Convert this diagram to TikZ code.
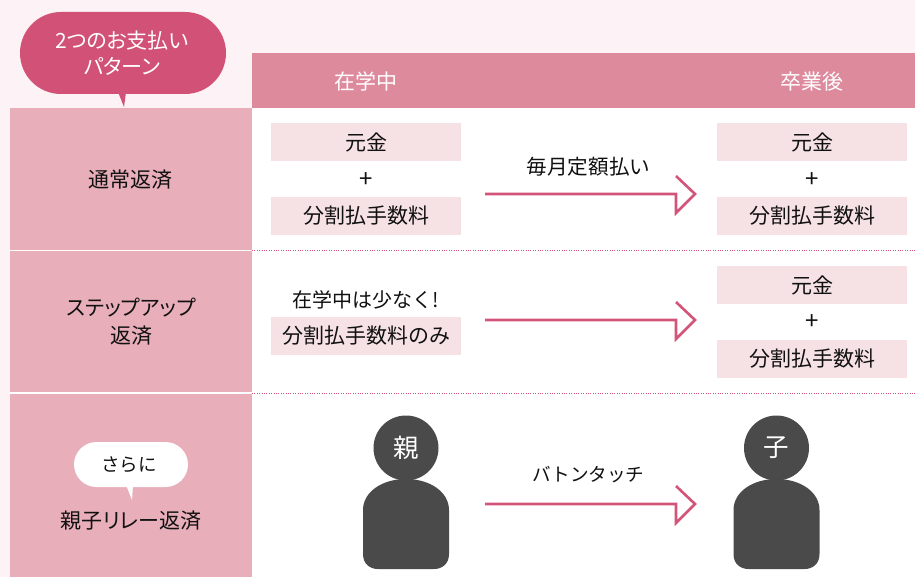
\documentclass[tikz,border=0pt]{standalone}
\usepackage{fontspec}
\setmainfont{Noto Sans CJK JP}
\newfontfamily\paltfont[RawFeature=+palt]{Noto Sans CJK JP}
\definecolor{bgp}{HTML}{FDF2F6}
\definecolor{headp}{HTML}{DE8A9D}
\definecolor{leftp}{HTML}{E8AEBA}
\definecolor{boxp}{HTML}{F6E1E5}
\definecolor{bubp}{HTML}{D15177}
\definecolor{arrp}{HTML}{D25579}
\definecolor{pers}{HTML}{4A4A4A}
\definecolor{ink}{HTML}{111111}
\newcommand{\cbt}[1]{\raisebox{-1.5pt}{#1}}
\tikzset{
  x=1pt,y=-1pt,
  txt/.style={inner sep=0pt,text=ink,font=\fontsize{21}{28}\selectfont,align=center},
  wtxt/.style={txt,text=white},
  cellbox/.style={fill=boxp,draw=none,minimum width=190pt,minimum height=38pt,inner sep=0pt,text=ink,font=\fontsize{21}{26}\selectfont},
  plus/.style={txt,font=\fontsize{24}{26}\selectfont},
  flow/.style={draw=arrp,line width=2.6pt,miter limit=10},
  sep/.style={draw=arrp,line width=1pt,dash pattern=on 1pt off 1.4pt},
  wsep/.style={draw=white,line width=1.4pt},
}
\newcommand{\flowarrow}[3]{% start name, end name, y
  \draw[flow] (#1) -- (676,#3) -- (676,#3+19) -- (#2) -- (676,#3-18);
}
\newcommand{\person}[3]{% name, centre x, label
  \fill[pers] (#2-43,569-15) -- (#2-43,510) .. controls (#2-43,492) and (#2-24,479) .. (#2,479) .. controls (#2+24,479) and (#2+43,492) .. (#2+43,510) -- (#2+43,554) .. controls (#2+43,564) and (#2+36,569) .. (#2+28,569) -- (#2-28,569) .. controls (#2-36,569) and (#2-43,564) .. (#2-43,554) -- cycle;
  \node[circle,fill=pers,minimum size=65pt,inner sep=0pt,text=white,font=\fontsize{25.5}{30}\selectfont] (#1) at (#2,448) {\cbt{#3}};
}
\begin{document}
\begin{tikzpicture}
\useasboundingbox (0,0) rectangle (915,577);
\fill[bgp] (0,0) rectangle (915,577);
\fill[white] (252,108) rectangle (915,577);
\fill[headp] (252,53) rectangle (915,108);
\fill[leftp] (10,108) rectangle (252,577);
% separators
\draw[wsep] (10,250.5) -- (252,250.5);
\draw[wsep] (10,393) -- (252,393);
\draw[sep] (252,250.5) -- (915,250.5);
\draw[sep] (252,393) -- (915,393);
% speech bubbles
\fill[bubp] (118,92) -- (124,107) -- (126,92) -- cycle;
\node[rectangle,rounded corners=41pt,fill=bubp,minimum width=206pt,minimum height=82pt,inner sep=0pt] (bub) at (123,53) {};
\node[wtxt,font=\fontsize{21}{26}\paltfont\selectfont] (bubt) at (122,53) {2つのお支払い\\パターン};
\fill[white] (126,485) -- (132,500) -- (133,485) -- cycle;
\node[rectangle,rounded corners=22.5pt,fill=white,minimum width=114pt,minimum height=45pt,inner sep=0pt] (bub2) at (131,464.5) {};
\node[txt,font=\fontsize{18.5}{24}\selectfont] (bub2t) at (129,465) {さらに};
% headers
\node[wtxt] (h1) at (366,81.5) {在学中};
\node[wtxt] (h2) at (812,81.5) {卒業後};
% left labels
\node[txt] (l1) at (130,180) {通常返済};
\node[txt,font=\fontsize{21}{28}\paltfont\selectfont] (l2) at (131,321.5) {ステップアップ\\返済};
\node[txt,font=\fontsize{21}{26}\paltfont\selectfont] (l3) at (131,520.5) {親子リレー返済};
% row 1
\node[cellbox] (a1) at (366,142) {\cbt{元金}};
\node[plus] (a2) at (366,180) {+};
\node[cellbox] (a3) at (366,216) {\cbt{分割払手数料}};
\node[cellbox] (b1) at (812,142) {\cbt{元金}};
\node[plus] (b2) at (812,180) {+};
\node[cellbox] (b3) at (812,216) {\cbt{分割払手数料}};
\node[txt,font=\fontsize{20.6}{26}\selectfont] (t1) at (588.5,166.5) {毎月定額払い};
% row 2
\node[txt,font=\fontsize{20}{24}\selectfont] (c1) at (366,299.5) {在学中は少なく!};
\node[cellbox] (c2) at (366,336) {\cbt{分割払手数料のみ}};
\node[cellbox] (d1) at (812,285) {\cbt{元金}};
\node[plus] (d2) at (812,322.5) {+};
\node[cellbox] (d3) at (812,359) {\cbt{分割払手数料}};
% row 3
\person{oya}{406}{親}
\person{ko}{776.5}{子}
\node[txt,font=\fontsize{18.6}{24}\selectfont] (t3) at (588.5,474.5) {バトンタッチ};
% arrows
\coordinate (s1) at (485,194); \coordinate (e1) at (695,194);
\coordinate (s2) at (485,320); \coordinate (e2) at (695,320);
\coordinate (s3) at (485,504); \coordinate (e3) at (695,504);
\flowarrow{s1}{e1}{194}
\flowarrow{s2}{e2}{320}
\flowarrow{s3}{e3}{504}
\end{tikzpicture}
\end{document}
